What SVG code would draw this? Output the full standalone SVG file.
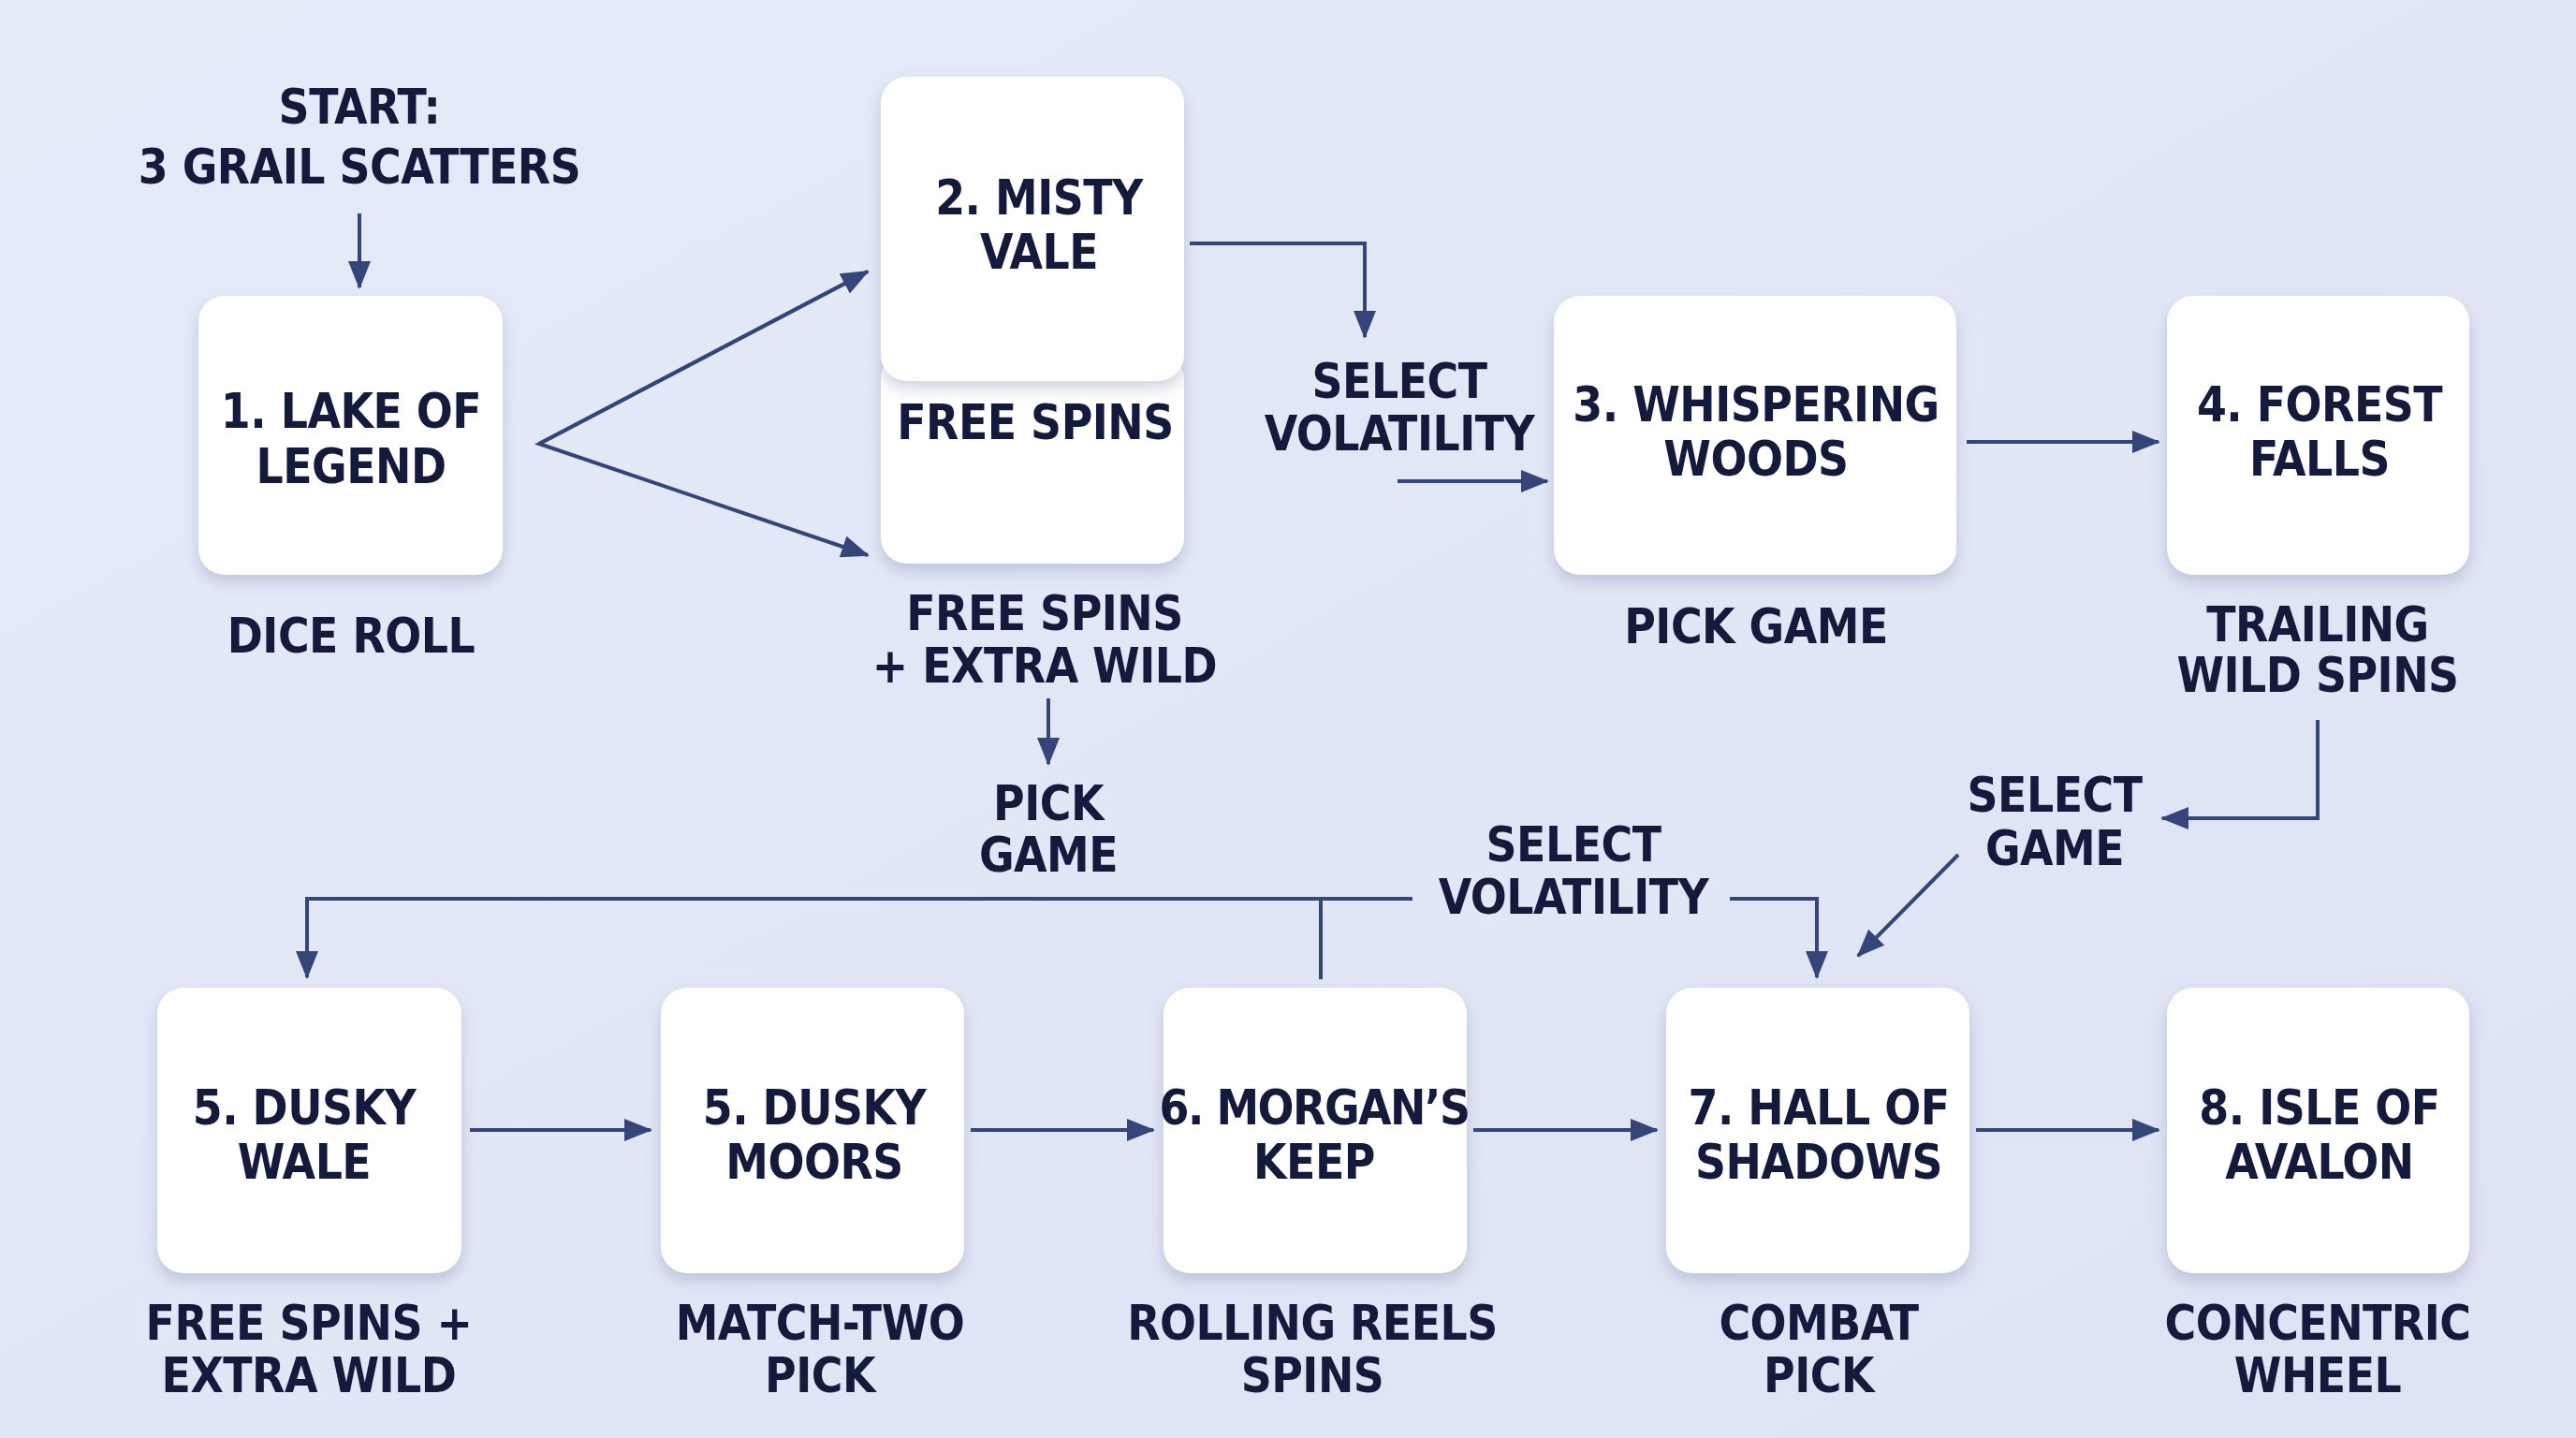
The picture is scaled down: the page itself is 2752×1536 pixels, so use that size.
<svg xmlns="http://www.w3.org/2000/svg" width="2752" height="1536" viewBox="0 0 2752 1536">
<defs>
<linearGradient id="bg" x1="0" y1="0" x2="1" y2="1"><stop offset="0" stop-color="#e6ebf8"/><stop offset="1" stop-color="#dde3f3"/></linearGradient>
<filter id="sh" x="-20%" y="-20%" width="140%" height="140%"><feDropShadow dx="0" dy="8" stdDeviation="8" flood-color="#7a86aa" flood-opacity="0.35"/></filter>
<style>
text{font-family:"DejaVu Sans Condensed","Liberation Sans",sans-serif;font-weight:bold;fill:#141a3c;text-anchor:middle;font-size:51px;letter-spacing:-0.5px}
.n rect{fill:#fff;filter:url(#sh)}
.c path{fill:none;stroke:#34457a;stroke-width:4}
</style>
<marker id="a" viewBox="0 0 30 24" refX="28" refY="12" markerWidth="30" markerHeight="24" markerUnits="userSpaceOnUse" orient="auto"><path d="M0,0 L30,12 L0,24 Z" fill="#34457a"/></marker>
</defs>
<rect width="2752" height="1536" fill="url(#bg)"/>
<g class="c">
<path d="M384,228 V307" marker-end="url(#a)"/>
<path d="M927,290 L576,474 L927,593" marker-end="url(#a)"/>
<path d="M576,474 L927,290" marker-end="url(#a)"/>
<path d="M1271,260 H1458 V360" marker-end="url(#a)"/>
<path d="M1493,514 H1653" marker-end="url(#a)"/>
<path d="M2101,472 H2306" marker-end="url(#a)"/>
<path d="M2476,769 V874 H2310" marker-end="url(#a)"/>
<path d="M2092,913 L1985,1021" marker-end="url(#a)"/>
<path d="M1120,746 V816" marker-end="url(#a)"/>
<path d="M1509,960 H328 V1044" marker-end="url(#a)"/>
<path d="M1411,960 V1046"/>
<path d="M1848,960 H1941 V1044" marker-end="url(#a)"/>
<path d="M502,1207 H695" marker-end="url(#a)"/>
<path d="M1037,1207 H1232" marker-end="url(#a)"/>
<path d="M1574,1207 H1770" marker-end="url(#a)"/>
<path d="M2111,1207 H2306" marker-end="url(#a)"/>
</g>
<g id="start"><text x="384" y="132">START:</text><text x="384" y="196">3 GRAIL SCATTERS</text></g>
<g id="n1" class="n"><rect x="212" y="316" width="325" height="298" rx="28"/><text x="375" y="457">1. LAKE OF</text><text x="375" y="516">LEGEND</text><text x="375" y="697">DICE ROLL</text></g>
<g id="n2b" class="n"><rect x="941" y="377" width="324" height="225" rx="28"/><text x="1106" y="469">FREE SPINS</text></g>
<g id="n2" class="n"><rect x="941" y="82" width="324" height="325" rx="28"/><text x="1110" y="229">2. MISTY</text><text x="1110" y="287">VALE</text></g>
<text x="1116" y="673">FREE SPINS</text><text x="1116" y="729">+ EXTRA WILD</text>
<text x="1495" y="425">SELECT</text><text x="1495" y="481">VOLATILITY</text>
<g id="n3" class="n"><rect x="1660" y="316" width="430" height="298" rx="28"/><text x="1876" y="450">3. WHISPERING</text><text x="1876" y="508">WOODS</text><text x="1876" y="687">PICK GAME</text></g>
<g id="n4" class="n"><rect x="2315" y="316" width="323" height="298" rx="28"/><text x="2478" y="450">4. FOREST</text><text x="2478" y="508">FALLS</text><text x="2476" y="685">TRAILING</text><text x="2476" y="739">WILD SPINS</text></g>
<text x="2195" y="867">SELECT</text><text x="2195" y="924">GAME</text>
<text x="1120" y="876">PICK</text><text x="1120" y="931">GAME</text>
<rect x="1512" y="920" width="334" height="80" fill="#e2e7f5"/>
<text x="1681" y="920">SELECT</text><text x="1681" y="976">VOLATILITY</text>
<g id="n5" class="n"><rect x="168" y="1055" width="325" height="305" rx="28"/><text x="325" y="1201">5. DUSKY</text><text x="325" y="1259">WALE</text><text x="330" y="1431">FREE SPINS +</text><text x="330" y="1487">EXTRA WILD</text></g>
<g id="n5b" class="n"><rect x="706" y="1055" width="324" height="305" rx="28"/><text x="870" y="1201">5. DUSKY</text><text x="870" y="1259">MOORS</text><text x="876" y="1431">MATCH-TWO</text><text x="876" y="1487">PICK</text></g>
<g id="n6" class="n"><rect x="1243" y="1055" width="324" height="305" rx="28"/><text x="1404" y="1201" style="letter-spacing:-1.5px">6. MORGAN’S</text><text x="1404" y="1259">KEEP</text><text x="1402" y="1431">ROLLING REELS</text><text x="1402" y="1487">SPINS</text></g>
<g id="n7" class="n"><rect x="1780" y="1055" width="324" height="305" rx="28"/><text x="1943" y="1201">7. HALL OF</text><text x="1943" y="1259">SHADOWS</text><text x="1943" y="1431">COMBAT</text><text x="1943" y="1487">PICK</text></g>
<g id="n8" class="n"><rect x="2315" y="1055" width="323" height="305" rx="28"/><text x="2478" y="1201">8. ISLE OF</text><text x="2478" y="1259">AVALON</text><text x="2476" y="1431">CONCENTRIC</text><text x="2476" y="1487">WHEEL</text></g>
</svg>
